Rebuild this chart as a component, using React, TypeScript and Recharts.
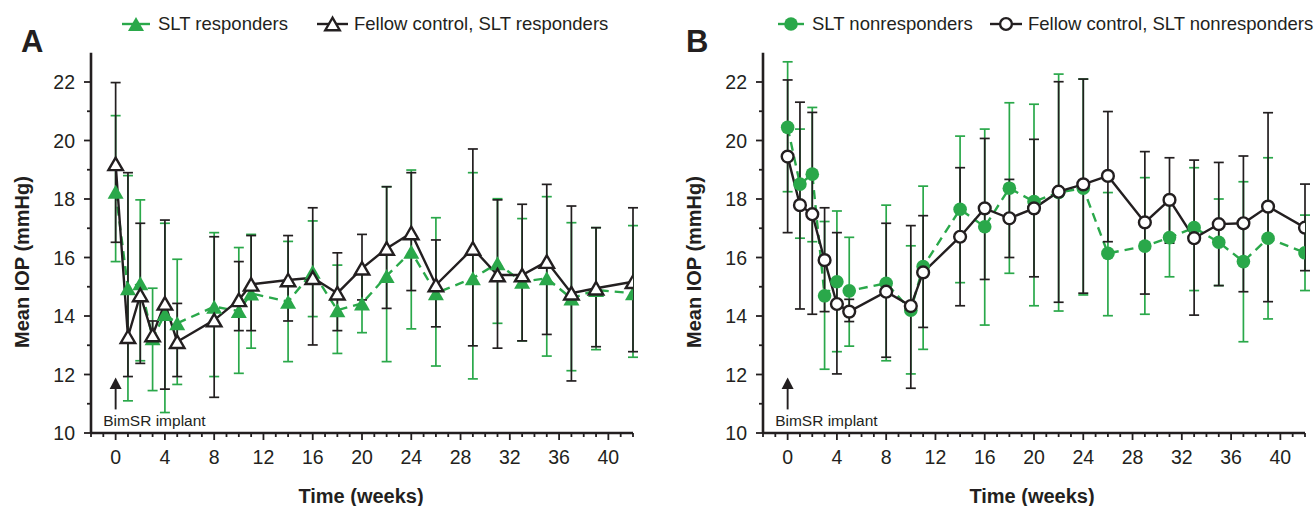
import React from 'react';
import { LineChart, Line, XAxis, YAxis, ErrorBar, ReferenceDot } from 'recharts';

const GREEN = '#2aa84a';
const BLACK = '#231f20';
const FONT = "'Liberation Sans', Arial, Helvetica, sans-serif";

// time points (weeks)
const weeks = [0, 1, 2, 3, 4, 5, 8, 10, 11, 14, 16, 18, 20, 22, 24, 26, 29, 31, 33, 35, 37, 39, 42];

// Panel A - SLT responders (mean, lower, upper)
const respMean = [18.25, 14.95, 15.12, 13.24, 14.07, 13.75, 14.32, 14.17, 14.77, 14.49, 15.51, 14.2, 14.43, 15.37, 16.2, 14.78, 15.29, 15.8, 15.17, 15.29, 14.6, 14.89, 14.78];
const respLo = [15.86, 11.1, 12.47, 11.45, 10.7, 11.66, 11.93, 12.04, 12.9, 12.44, 13.98, 12.72, 13.43, 12.44, 13.56, 12.29, 11.85, 13.75, 13.15, 12.63, 12.13, 12.85, 12.59];
const respHi = [20.85, 18.8, 17.97, 14.95, 17.17, 15.94, 16.85, 16.34, 16.79, 16.55, 17.25, 15.74, 15.43, 18.42, 18.99, 17.36, 18.9, 18.01, 17.33, 18.08, 17.19, 17.02, 17.09];

// Panel A - fellow control, SLT responders
const respCtrlMean = [19.2, 13.29, 14.72, 13.35, 14.43, 13.12, 13.86, 14.55, 15.08, 15.23, 15.31, 14.78, 15.63, 16.31, 16.84, 15.06, 16.31, 15.4, 15.4, 15.86, 14.78, 14.95, 15.17];
const respCtrlLo = [16.52, 11.93, 12.38, 13.07, 11.5, 11.93, 11.22, 13.5, 13.5, 13.83, 13.01, 13.5, 14.55, 14.26, 14.87, 13.63, 12.98, 12.9, 13.15, 13.37, 11.78, 12.95, 12.78];
const respCtrlHi = [21.98, 18.9, 17.17, 13.83, 17.28, 14.43, 16.71, 15.86, 16.75, 16.75, 17.7, 16.16, 16.79, 18.42, 18.9, 16.6, 19.71, 17.97, 17.82, 18.5, 17.76, 17.02, 17.7];

// Panel B - SLT nonresponders
const nonMean = [20.45, 18.51, 18.85, 14.69, 15.17, 14.86, 15.12, 14.2, 15.69, 17.65, 17.05, 18.37, 17.91, 18.22, 18.37, 16.14, 16.39, 16.68, 17.02, 16.52, 15.86, 16.66, 16.16];
const nonLo = [18.25, 16.66, 16.54, 12.18, 12.78, 12.97, 12.47, 12.02, 12.86, 15.14, 13.69, 15.46, 14.35, 14.17, 14.72, 14.01, 14.06, 15.34, 14.87, 15.04, 13.12, 13.9, 14.87];
const nonHi = [22.69, 20.39, 21.13, 17.23, 17.59, 16.69, 17.79, 16.4, 18.44, 20.15, 20.39, 21.29, 21.24, 22.27, 22.1, 18.22, 18.73, 18.02, 19.07, 18.0, 18.59, 19.41, 17.45];

// Panel B - fellow control, SLT nonresponders
const nonCtrlMean = [19.45, 17.79, 17.48, 15.91, 14.41, 14.15, 14.83, 14.34, 15.49, 16.71, 17.68, 17.34, 17.68, 18.25, 18.5, 18.79, 17.2, 17.97, 16.66, 17.14, 17.17, 17.74, 17.02];
const nonCtrlLo = [16.85, 14.24, 14.06, 14.15, 12.02, 13.81, 12.59, 11.53, 13.61, 14.35, 15.25, 16.0, 15.34, 14.47, 14.78, 16.54, 14.75, 16.49, 14.03, 15.04, 14.83, 14.49, 15.55];
const nonCtrlHi = [22.07, 21.31, 20.96, 17.7, 16.85, 14.57, 17.17, 17.09, 17.43, 19.07, 20.07, 18.67, 20.04, 22.01, 22.1, 20.99, 19.62, 19.41, 19.33, 19.25, 19.47, 20.95, 18.51];

// axis ticks
const xTicks = [-2, -1, 0, 1, 2, 3, 4, 5, 6, 7, 8, 9, 10, 11, 12, 13, 14, 15, 16, 17, 18, 19, 20, 21, 22, 23, 24, 25, 26, 27, 28, 29, 30, 31, 32, 33, 34, 35, 36, 37, 38, 39, 40, 41, 42];
const xLabels = [0, 4, 8, 12, 16, 20, 24, 28, 32, 36, 40];
const yTicks = [10, 11, 12, 13, 14, 15, 16, 17, 18, 19, 20, 21, 22];
const yLabels = [10, 12, 14, 16, 18, 20, 22];

const implantWeek = 0;
const implantIop = 11.9;

type Row = {
  week: number;
  slt: number;
  sltErr: [number, number];
  ctrl: number;
  ctrlErr: [number, number];
};

const r2 = (v: number) => Math.round(v * 100) / 100;

function buildRows(m: number[], lo: number[], hi: number[], cm: number[], clo: number[], chi: number[]): Row[] {
  return weeks.map((w, i) => ({
    week: w,
    slt: m[i],
    sltErr: [r2(m[i] - lo[i]), r2(hi[i] - m[i])],
    ctrl: cm[i],
    ctrlErr: [r2(cm[i] - clo[i]), r2(chi[i] - cm[i])],
  }));
}

const dataA = buildRows(respMean, respLo, respHi, respCtrlMean, respCtrlLo, respCtrlHi);
const dataB = buildRows(nonMean, nonLo, nonHi, nonCtrlMean, nonCtrlLo, nonCtrlHi);

// markers
const triPoints = (cx: number, cy: number, w: number, h: number) =>
  `${cx},${cy - h / 2} ${cx - w / 2},${cy + h / 2} ${cx + w / 2},${cy + h / 2}`;

const FilledTri = (p: any) => {
  const { cx, cy, index } = p;
  if (cx == null || cy == null) return <g key={`ft${index}`} />;
  return <polygon key={`ft${index}`} points={triPoints(cx, cy, 16, 14)} fill={GREEN} />;
};

const OpenTri = (p: any) => {
  const { cx, cy, index } = p;
  if (cx == null || cy == null) return <g key={`ot${index}`} />;
  return (
    <polygon
      key={`ot${index}`}
      points={triPoints(cx, cy, 14.5, 12.5)}
      fill="#fff"
      stroke={BLACK}
      strokeWidth={2.4}
      strokeLinejoin="miter"
    />
  );
};

const FilledCircle = (p: any) => {
  const { cx, cy, index } = p;
  if (cx == null || cy == null) return <g key={`fc${index}`} />;
  return <circle key={`fc${index}`} cx={cx} cy={cy} r={6.8} fill={GREEN} />;
};

const OpenCircle = (p: any) => {
  const { cx, cy, index } = p;
  if (cx == null || cy == null) return <g key={`oc${index}`} />;
  return <circle key={`oc${index}`} cx={cx} cy={cy} r={5.9} fill="#fff" stroke={BLACK} strokeWidth={2.4} />;
};

// ticks with major / minor marks
const renderYTick = (p: any) => {
  const { x, y, payload } = p;
  const v = payload.value;
  const major = yLabels.includes(v);
  return (
    <g>
      <line x1={x} x2={x - (major ? 7 : 4)} y1={y} y2={y} stroke={BLACK} strokeWidth={1.8} />
      {major && (
        <text x={x - 16} y={y} dy="0.36em" textAnchor="end" fontSize={19.5} fill={BLACK} fontFamily={FONT}>
          {v}
        </text>
      )}
    </g>
  );
};

const renderXTick = (p: any) => {
  const { x, y, payload } = p;
  const v = payload.value;
  const major = xLabels.includes(v);
  return (
    <g>
      <line x1={x} x2={x} y1={y} y2={y + (major ? 7 : 4)} stroke={BLACK} strokeWidth={1.8} />
      {major && (
        <text x={x} y={y + 31} textAnchor="middle" fontSize={19.5} fill={BLACK} fontFamily={FONT}>
          {v}
        </text>
      )}
    </g>
  );
};

const ImplantMark = (p: any) => {
  const { cx, cy } = p;
  return (
    <g>
      <polygon points={`${cx},${cy} ${cx - 6},${cy + 11.5} ${cx + 6},${cy + 11.5}`} fill={BLACK} />
      <line x1={cx} x2={cx} y1={cy + 10} y2={cy + 32} stroke={BLACK} strokeWidth={1.9} />
      <text x={cx - 12.5} y={cy + 49} fontSize={15.5} fill={BLACK} fontFamily={FONT}>
        BimSR implant
      </text>
    </g>
  );
};

interface PanelProps {
  data: Row[];
  left: number;
  circles?: boolean;
}

const Panel: React.FC<PanelProps> = ({ data, left, circles }) => (
  <div style={{ position: 'absolute', left, top: 0 }}>
    <LineChart width={660} height={506} data={data} margin={{ top: 52.75, right: 27, bottom: 0, left: 0 }}>
      <XAxis
        type="number"
        dataKey="week"
        domain={[-2, 42]}
        ticks={xTicks}
        interval={0}
        tickSize={0}
        tickMargin={0}
        tick={renderXTick}
        tickLine={false}
        axisLine={{ stroke: BLACK, strokeWidth: 2.6 }}
        height={73}
        allowDataOverflow
      />
      <YAxis
        type="number"
        domain={[10, 23]}
        ticks={yTicks}
        interval={0}
        tickSize={0}
        tickMargin={0}
        tick={renderYTick}
        tickLine={false}
        axisLine={{ stroke: BLACK, strokeWidth: 2.6 }}
        width={91}
        allowDataOverflow
      />
      <Line
        dataKey="slt"
        stroke={GREEN}
        strokeWidth={2.4}
        strokeDasharray="9 6"
        dot={circles ? FilledCircle : FilledTri}
        activeDot={false}
        isAnimationActive={false}
      >
        <ErrorBar dataKey="sltErr" direction="y" width={5} stroke={GREEN} strokeWidth={1.7} isAnimationActive={false} />
      </Line>
      <Line
        dataKey="ctrl"
        stroke={BLACK}
        strokeWidth={2.4}
        dot={circles ? OpenCircle : OpenTri}
        activeDot={false}
        isAnimationActive={false}
      >
        <ErrorBar dataKey="ctrlErr" direction="y" width={5} stroke={BLACK} strokeWidth={1.7} isAnimationActive={false} />
      </Line>
      <ReferenceDot x={implantWeek} y={implantIop} r={0} shape={ImplantMark} />
    </LineChart>
  </div>
);

const LegendIcon: React.FC<{ width: number; color: string; shape: 'ft' | 'ot' | 'fc' | 'oc' }> = ({ width, color, shape }) => {
  const cx = width / 2;
  const cy = 10;
  return (
    <svg width={width} height={20} style={{ display: 'block' }}>
      <line x1={0} x2={width} y1={cy} y2={cy} stroke={color} strokeWidth={2.4} />
      {shape === 'ft' && <polygon points={triPoints(cx, cy, 16, 14)} fill={GREEN} />}
      {shape === 'ot' && <polygon points={triPoints(cx, cy, 14.5, 12.5)} fill="#fff" stroke={BLACK} strokeWidth={2.4} />}
      {shape === 'fc' && <circle cx={cx} cy={cy} r={6.8} fill={GREEN} />}
      {shape === 'oc' && <circle cx={cx} cy={cy} r={5.9} fill="#fff" stroke={BLACK} strokeWidth={2.4} />}
    </svg>
  );
};

const textStyle: React.CSSProperties = {
  position: 'absolute',
  fontFamily: FONT,
  color: BLACK,
  whiteSpace: 'nowrap',
};

const LegendEntry: React.FC<{ iconLeft: number; iconWidth: number; textLeft: number; color: string; shape: 'ft' | 'ot' | 'fc' | 'oc'; label: string }> = ({
  iconLeft,
  iconWidth,
  textLeft,
  color,
  shape,
  label,
}) => (
  <>
    <div style={{ position: 'absolute', left: iconLeft, top: 14 }}>
      <LegendIcon width={iconWidth} color={color} shape={shape} />
    </div>
    <div style={{ ...textStyle, left: textLeft, top: 14, fontSize: 18.5, lineHeight: '20px' }}>{label}</div>
  </>
);

const YTitle: React.FC<{ cx: number }> = ({ cx }) => (
  <div
    style={{
      ...textStyle,
      left: cx - 110,
      top: 262 - 12,
      width: 220,
      height: 24,
      lineHeight: '24px',
      textAlign: 'center',
      fontSize: 20,
      fontWeight: 'bold',
      transform: 'rotate(-90deg)',
    }}
  >
    Mean IOP (mmHg)
  </div>
);

const XTitle: React.FC<{ cx: number }> = ({ cx }) => (
  <div
    style={{
      ...textStyle,
      left: cx - 100,
      top: 484,
      width: 200,
      lineHeight: '24px',
      textAlign: 'center',
      fontSize: 20,
      fontWeight: 'bold',
    }}
  >
    Time (weeks)
  </div>
);

export default function App() {
  return (
    <div style={{ position: 'absolute', left: 0, top: 0, width: 1315, height: 506, background: '#fff', overflow: 'hidden' }}>
      <Panel data={dataA} left={0} />
      <Panel data={dataB} left={672} circles />

      <div style={{ ...textStyle, left: 21, top: 25, fontSize: 31, lineHeight: '34px', fontWeight: 'bold' }}>A</div>
      <div style={{ ...textStyle, left: 686, top: 25, fontSize: 31, lineHeight: '34px', fontWeight: 'bold' }}>B</div>

      <LegendEntry iconLeft={122} iconWidth={28} textLeft={158} color={GREEN} shape="ft" label="SLT responders" />
      <LegendEntry iconLeft={317} iconWidth={31} textLeft={354} color={BLACK} shape="ot" label="Fellow control, SLT responders" />
      <LegendEntry iconLeft={778} iconWidth={26} textLeft={812} color={GREEN} shape="fc" label="SLT nonresponders" />
      <LegendEntry iconLeft={990} iconWidth={32} textLeft={1028} color={BLACK} shape="oc" label="Fellow control, SLT nonresponders" />

      <YTitle cx={22} />
      <YTitle cx={694} />
      <XTitle cx={361} />
      <XTitle cx={1032} />
    </div>
  );
}
